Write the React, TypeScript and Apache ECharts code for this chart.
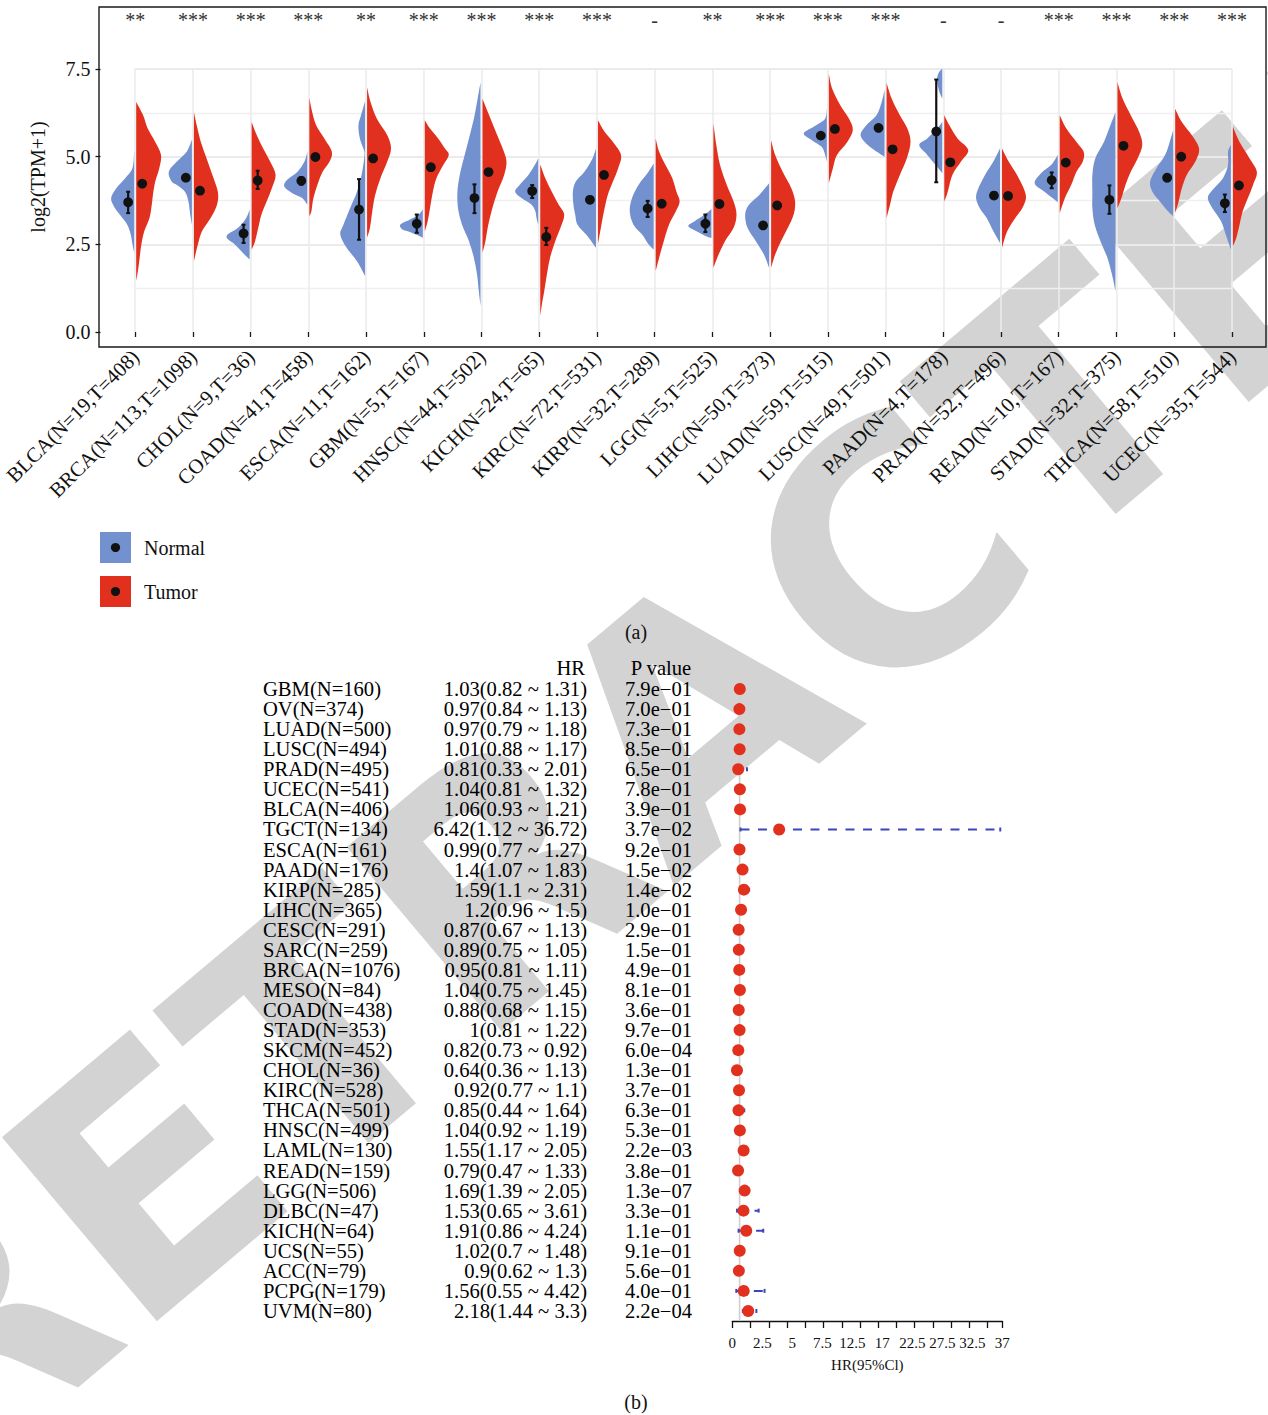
import React, { useEffect, useRef } from 'react';
import * as echarts from 'echarts';

// ---------------- Panel (a) data ----------------
const categories = ['BLCA(N=19,T=408)', 'BRCA(N=113,T=1098)', 'CHOL(N=9,T=36)', 'COAD(N=41,T=458)', 'ESCA(N=11,T=162)', 'GBM(N=5,T=167)', 'HNSC(N=44,T=502)', 'KICH(N=24,T=65)', 'KIRC(N=72,T=531)', 'KIRP(N=32,T=289)', 'LGG(N=5,T=525)', 'LIHC(N=50,T=373)', 'LUAD(N=59,T=515)', 'LUSC(N=49,T=501)', 'PAAD(N=4,T=178)', 'PRAD(N=52,T=496)', 'READ(N=10,T=167)', 'STAD(N=32,T=375)', 'THCA(N=58,T=510)', 'UCEC(N=35,T=544)'];
const significance = ['**', '***', '***', '***', '**', '***', '***', '***', '***', '-', '**', '***', '***', '***', '-', '-', '***', '***', '***', '***'];
const yTicks = [0, 2.5, 5, 7.5];

const normalMean = [3.70, 4.40, 2.81, 4.31, 3.49, 3.09, 3.82, 4.02, 3.77, 3.52, 3.09, 3.04, 5.60, 5.82, 5.72, 3.89, 4.33, 3.77, 4.40, 3.67];
const normalLow = [3.39, 4.33, 2.54, 4.20, 2.63, 2.83, 3.39, 3.82, 3.68, 3.28, 2.85, 2.95, 5.55, 5.75, 4.27, 3.80, 4.10, 3.37, 4.30, 3.42];
const normalHigh = [4.00, 4.47, 3.06, 4.42, 4.36, 3.35, 4.21, 4.19, 3.86, 3.74, 3.35, 3.13, 5.65, 5.88, 7.20, 3.98, 4.55, 4.18, 4.50, 3.92];
const tumorMean = [4.23, 4.03, 4.32, 4.99, 4.95, 4.70, 4.56, 2.71, 4.48, 3.66, 3.65, 3.61, 5.79, 5.21, 4.84, 3.88, 4.83, 5.31, 5.00, 4.18];
const tumorLow = [4.18, 3.98, 4.08, 4.94, 4.85, 4.65, 4.51, 2.48, 4.43, 3.61, 3.60, 3.56, 5.74, 5.16, 4.79, 3.83, 4.78, 5.26, 4.95, 4.13];
const tumorHigh = [4.28, 4.08, 4.60, 5.04, 5.05, 4.75, 4.61, 2.97, 4.53, 3.71, 3.70, 3.66, 5.84, 5.26, 4.89, 3.93, 4.88, 5.36, 5.05, 4.23];

// density profiles: [log2(TPM+1), half width as a fraction of the category step]
const normalShapes: number[][][] = [
  [[5.16, 0], [4.67, 0.03], [4.38, 0.16], [4.10, 0.31], [3.82, 0.40], [3.58, 0.35], [3.35, 0.25], [3.06, 0.12], [2.78, 0.06], [2.50, 0.03], [2.26, 0]],
  [[5.49, 0], [5.14, 0.09], [4.86, 0.26], [4.57, 0.40], [4.29, 0.35], [4.19, 0.26], [4.00, 0.12], [3.72, 0.06], [3.35, 0.03], [3.06, 0]],
  [[3.49, 0], [3.25, 0.06], [2.97, 0.20], [2.73, 0.40], [2.50, 0.26], [2.21, 0.09], [2.07, 0]],
  [[5.14, 0], [4.86, 0.05], [4.57, 0.17], [4.34, 0.35], [4.15, 0.40], [3.96, 0.26], [3.82, 0.09], [3.63, 0]],
  [[6.57, 0], [6.18, 0.07], [5.89, 0.115], [5.52, 0.09], [5.23, 0.03], [5.05, 0.01], [4.48, 0.06], [4.00, 0.14], [3.53, 0.26], [3.06, 0.375], [2.78, 0.43], [2.40, 0.32], [2.02, 0.14], [1.60, 0]],
  [[3.49, 0], [3.35, 0.07], [3.20, 0.23], [3.06, 0.39], [2.92, 0.35], [2.87, 0.26], [2.73, 0.05], [2.68, 0]],
  [[7.12, 0], [6.65, 0.05], [6.08, 0.115], [5.52, 0.20], [4.95, 0.29], [4.48, 0.36], [4.00, 0.40], [3.53, 0.39], [3.06, 0.32], [2.59, 0.20], [2.12, 0.115], [1.64, 0.06], [1.17, 0.03], [0.75, 0]],
  [[4.95, 0], [4.76, 0.06], [4.48, 0.17], [4.20, 0.32], [4.00, 0.40], [3.82, 0.29], [3.63, 0.115], [3.44, 0.05], [3.25, 0.03], [3.06, 0]],
  [[5.23, 0], [4.95, 0.06], [4.57, 0.20], [4.29, 0.35], [4.00, 0.40], [3.63, 0.39], [3.35, 0.36], [3.06, 0.32], [2.78, 0.17], [2.54, 0.06], [2.40, 0]],
  [[4.81, 0], [4.57, 0.09], [4.20, 0.26], [3.82, 0.375], [3.44, 0.415], [3.06, 0.35], [2.78, 0.20], [2.50, 0.09], [2.35, 0]],
  [[3.51, 0], [3.35, 0.115], [3.16, 0.29], [3.02, 0.40], [2.87, 0.26], [2.73, 0.09], [2.68, 0]],
  [[4.24, 0], [3.91, 0.17], [3.63, 0.35], [3.35, 0.415], [2.97, 0.375], [2.59, 0.23], [2.21, 0.09], [1.83, 0]],
  [[6.39, 0], [6.08, 0.03], [5.85, 0.23], [5.66, 0.40], [5.47, 0.26], [5.28, 0.09], [5.05, 0.03], [4.86, 0]],
  [[6.91, 0], [6.56, 0.05], [6.18, 0.14], [5.89, 0.32], [5.61, 0.415], [5.33, 0.29], [5.09, 0.09], [5.00, 0]],
  [[7.51, 0], [7.40, 0.06], [7.20, 0.09], [6.90, 0.06], [6.65, 0], [5.99, 0], [5.80, 0.09], [5.52, 0.26], [5.33, 0.40], [5.05, 0.26], [4.76, 0.115], [4.53, 0]],
  [[5.23, 0], [4.86, 0.115], [4.48, 0.26], [4.10, 0.375], [3.82, 0.415], [3.53, 0.35], [3.25, 0.23], [2.87, 0.115], [2.54, 0]],
  [[5.05, 0], [4.76, 0.115], [4.53, 0.29], [4.24, 0.40], [4.00, 0.23], [3.82, 0.09], [3.70, 0]],
  [[6.27, 0], [5.89, 0.09], [5.42, 0.20], [4.95, 0.35], [4.48, 0.40], [4.00, 0.40], [3.53, 0.40], [3.06, 0.36], [2.59, 0.26], [2.12, 0.14], [1.64, 0.06], [1.17, 0]],
  [[5.75, 0], [5.42, 0.06], [5.05, 0.14], [4.67, 0.29], [4.29, 0.40], [4.00, 0.36], [3.72, 0.23], [3.44, 0.09], [3.30, 0]],
  [[5.33, 0], [5.14, 0.05], [4.76, 0.05], [4.38, 0.14], [4.05, 0.32], [3.82, 0.40], [3.53, 0.32], [3.16, 0.17], [2.78, 0.09], [2.35, 0]],
];
const tumorShapes: number[][][] = [
  [[6.56, 0], [6.18, 0.12], [5.80, 0.20], [5.42, 0.33], [5.05, 0.43], [4.67, 0.40], [4.29, 0.33], [3.91, 0.29], [3.63, 0.27], [3.25, 0.23], [2.87, 0.14], [2.50, 0.09], [2.12, 0.06], [1.74, 0.03], [1.46, 0]],
  [[6.27, 0], [5.89, 0.05], [5.42, 0.12], [4.95, 0.22], [4.48, 0.32], [4.00, 0.415], [3.63, 0.40], [3.25, 0.29], [2.87, 0.14], [2.50, 0.07], [2.02, 0]],
  [[5.99, 0], [5.61, 0.09], [5.23, 0.20], [4.86, 0.32], [4.48, 0.415], [4.10, 0.35], [3.72, 0.26], [3.35, 0.17], [2.97, 0.115], [2.59, 0.06], [2.35, 0]],
  [[6.67, 0], [6.27, 0.05], [5.89, 0.12], [5.52, 0.26], [5.14, 0.39], [4.86, 0.35], [4.57, 0.23], [4.20, 0.14], [3.82, 0.07], [3.44, 0.035], [3.30, 0]],
  [[6.98, 0], [6.56, 0.06], [6.08, 0.17], [5.61, 0.35], [5.23, 0.415], [4.86, 0.35], [4.38, 0.23], [3.91, 0.14], [3.44, 0.09], [2.97, 0.05], [2.69, 0]],
  [[6.04, 0], [5.80, 0.09], [5.52, 0.23], [5.23, 0.35], [5.05, 0.415], [4.76, 0.32], [4.38, 0.20], [4.00, 0.14], [3.53, 0.09], [3.16, 0.05], [2.87, 0]],
  [[6.65, 0], [6.18, 0.115], [5.71, 0.23], [5.23, 0.35], [4.86, 0.415], [4.48, 0.375], [4.00, 0.26], [3.53, 0.17], [3.06, 0.10], [2.59, 0.05], [2.26, 0]],
  [[4.78, 0], [4.38, 0.09], [4.00, 0.20], [3.63, 0.32], [3.35, 0.415], [2.97, 0.35], [2.59, 0.26], [2.12, 0.17], [1.64, 0.115], [1.17, 0.07], [0.80, 0.03], [0.45, 0]],
  [[6.04, 0], [5.71, 0.115], [5.42, 0.26], [5.05, 0.40], [4.67, 0.35], [4.29, 0.26], [3.91, 0.17], [3.53, 0.115], [3.06, 0.06], [2.50, 0]],
  [[5.52, 0], [5.14, 0.06], [4.76, 0.17], [4.38, 0.29], [4.00, 0.36], [3.72, 0.415], [3.44, 0.35], [3.06, 0.23], [2.59, 0.14], [2.12, 0.06], [1.74, 0]],
  [[5.95, 0], [5.33, 0.05], [4.76, 0.115], [4.20, 0.23], [3.72, 0.35], [3.35, 0.40], [2.97, 0.35], [2.59, 0.20], [2.21, 0.09], [1.83, 0]],
  [[5.47, 0], [5.05, 0.07], [4.57, 0.20], [4.10, 0.35], [3.72, 0.415], [3.35, 0.39], [2.97, 0.29], [2.59, 0.17], [2.21, 0.07], [1.83, 0]],
  [[7.36, 0], [6.93, 0.06], [6.46, 0.20], [6.08, 0.35], [5.76, 0.415], [5.42, 0.32], [5.05, 0.14], [4.67, 0.07], [4.24, 0]],
  [[7.10, 0], [6.65, 0.09], [6.18, 0.23], [5.80, 0.36], [5.42, 0.415], [4.95, 0.35], [4.48, 0.23], [4.00, 0.115], [3.63, 0.06], [3.25, 0]],
  [[6.18, 0], [5.89, 0.09], [5.52, 0.23], [5.19, 0.415], [4.86, 0.29], [4.48, 0.14], [4.00, 0.06], [3.72, 0]],
  [[5.23, 0], [4.86, 0.115], [4.48, 0.26], [4.10, 0.375], [3.82, 0.415], [3.53, 0.35], [3.25, 0.23], [2.87, 0.09], [2.40, 0]],
  [[6.18, 0], [5.80, 0.115], [5.42, 0.29], [5.14, 0.415], [4.86, 0.40], [4.57, 0.29], [4.20, 0.20], [3.82, 0.09], [3.39, 0]],
  [[7.12, 0], [6.65, 0.09], [6.18, 0.23], [5.71, 0.375], [5.33, 0.43], [4.95, 0.35], [4.57, 0.23], [4.20, 0.14], [3.82, 0.07], [3.53, 0]],
  [[6.37, 0], [5.99, 0.115], [5.61, 0.29], [5.23, 0.415], [4.86, 0.35], [4.48, 0.20], [4.10, 0.115], [3.72, 0.06], [3.39, 0]],
  [[5.85, 0], [5.42, 0.115], [4.95, 0.29], [4.57, 0.415], [4.20, 0.35], [3.82, 0.26], [3.44, 0.17], [3.06, 0.115], [2.69, 0.06], [2.45, 0]],
];

// ---------------- Panel (b) data ----------------
const forestNames = ['GBM(N=160)', 'OV(N=374)', 'LUAD(N=500)', 'LUSC(N=494)', 'PRAD(N=495)', 'UCEC(N=541)', 'BLCA(N=406)', 'TGCT(N=134)', 'ESCA(N=161)', 'PAAD(N=176)', 'KIRP(N=285)', 'LIHC(N=365)', 'CESC(N=291)', 'SARC(N=259)', 'BRCA(N=1076)', 'MESO(N=84)', 'COAD(N=438)', 'STAD(N=353)', 'SKCM(N=452)', 'CHOL(N=36)', 'KIRC(N=528)', 'THCA(N=501)', 'HNSC(N=499)', 'LAML(N=130)', 'READ(N=159)', 'LGG(N=506)', 'DLBC(N=47)', 'KICH(N=64)', 'UCS(N=55)', 'ACC(N=79)', 'PCPG(N=179)', 'UVM(N=80)'];
const hr = [1.03, 0.97, 0.97, 1.01, 0.81, 1.04, 1.06, 6.42, 0.99, 1.4, 1.59, 1.2, 0.87, 0.89, 0.95, 1.04, 0.88, 1, 0.82, 0.64, 0.92, 0.85, 1.04, 1.55, 0.79, 1.69, 1.53, 1.91, 1.02, 0.9, 1.56, 2.18];
const hrLower = [0.82, 0.84, 0.79, 0.88, 0.33, 0.81, 0.93, 1.12, 0.77, 1.07, 1.1, 0.96, 0.67, 0.75, 0.81, 0.75, 0.68, 0.81, 0.73, 0.36, 0.77, 0.44, 0.92, 1.17, 0.47, 1.39, 0.65, 0.86, 0.7, 0.62, 0.55, 1.44];
const hrUpper = [1.31, 1.13, 1.18, 1.17, 2.01, 1.32, 1.21, 36.72, 1.27, 1.83, 2.31, 1.5, 1.13, 1.05, 1.11, 1.45, 1.15, 1.22, 0.92, 1.13, 1.1, 1.64, 1.19, 2.05, 1.33, 2.05, 3.61, 4.24, 1.48, 1.3, 4.42, 3.3];
const pValues = ['7.9e−01', '7.0e−01', '7.3e−01', '8.5e−01', '6.5e−01', '7.8e−01', '3.9e−01', '3.7e−02', '9.2e−01', '1.5e−02', '1.4e−02', '1.0e−01', '2.9e−01', '1.5e−01', '4.9e−01', '8.1e−01', '3.6e−01', '9.7e−01', '6.0e−04', '1.3e−01', '3.7e−01', '6.3e−01', '5.3e−01', '2.2e−03', '3.8e−01', '1.3e−07', '3.3e−01', '1.1e−01', '9.1e−01', '5.6e−01', '4.0e−01', '2.2e−04'];
const forestTickLabels = ['0', '2.5', '5', '7.5', '12.5', '17', '22.5', '27.5', '32.5', '37'];
const forestMax = 37;
const referenceHR = [1];

const hrText = hr.map((v, i) => `${v}(${hrLower[i]} ~ ${hrUpper[i]})`);

// ---------------- styles ----------------
const FONT = 'Liberation Serif';
const BLUE = '#7391cf';
const RED = '#e1311e';
const CI_BLUE = '#3c46bc';
const HALF_GAP = 1;
const DOT_OFFSET = 0.122;
const SIG_Y = 8.9;

function lobes(profile: number[][]) {
  const zeros: number[] = [];
  profile.forEach((p, i) => { if (p[1] === 0) zeros.push(i); });
  const res: number[][][] = [];
  for (let k = 0; k < zeros.length - 1; k++) {
    if (zeros[k + 1] - zeros[k] > 1) res.push(profile.slice(zeros[k], zeros[k + 1] + 1));
  }
  return res;
}

function smoothHalf(pts: number[][], cx: number, side: number) {
  const clampX = (x: number) => (side < 0 ? Math.min(x, cx) : Math.max(x, cx));
  let d = `M${pts[0][0]} ${pts[0][1]}`;
  for (let i = 0; i < pts.length - 1; i++) {
    const p0 = pts[Math.max(i - 1, 0)];
    const p1 = pts[i];
    const p2 = pts[i + 1];
    const p3 = pts[Math.min(i + 2, pts.length - 1)];
    const c1x = clampX(p1[0] + (p2[0] - p0[0]) / 6);
    const c1y = p1[1] + (p2[1] - p0[1]) / 6;
    const c2x = clampX(p2[0] - (p3[0] - p1[0]) / 6);
    const c2y = p2[1] - (p3[1] - p1[1]) / 6;
    d += ` C${c1x} ${c1y} ${c2x} ${c2y} ${p2[0]} ${p2[1]}`;
  }
  return d + ' Z';
}

function violinRenderer(shapes: number[][][], color: string, side: number) {
  return (params: any, api: any) => {
    const idx = api.value(0);
    const unit = api.coord([1, 0])[0] - api.coord([0, 0])[0];
    const cx = api.coord([idx, 0])[0] + side * HALF_GAP;
    const children = lobes(shapes[idx]).map((lobe) => {
      const pts = lobe.map(([v, w]) => [cx + side * w * unit, api.coord([idx, v])[1]]);
      return { type: 'path', shape: { pathData: smoothHalf(pts, cx, side) }, style: { fill: color } };
    });
    return { type: 'group', children };
  };
}

function pointRenderer(params: any, api: any) {
  const idx = api.value(0);
  const unit = api.coord([1, 0])[0] - api.coord([0, 0])[0];
  const cx = api.coord([idx, 0])[0];
  const children: any[] = [];
  const add = (dx: number, mean: number, lo: number, hi: number) => {
    const x = cx + dx * unit;
    const yM = api.coord([idx, mean])[1];
    const yL = api.coord([idx, lo])[1];
    const yH = api.coord([idx, hi])[1];
    children.push({ type: 'line', shape: { x1: x, y1: yL, x2: x, y2: yH }, style: { stroke: '#111', lineWidth: 2.2 } });
    children.push({ type: 'line', shape: { x1: x - 2, y1: yL, x2: x + 2, y2: yL }, style: { stroke: '#111', lineWidth: 2 } });
    children.push({ type: 'line', shape: { x1: x - 2, y1: yH, x2: x + 2, y2: yH }, style: { stroke: '#111', lineWidth: 2 } });
    children.push({ type: 'circle', shape: { cx: x, cy: yM, r: 4.9 }, style: { fill: '#111' } });
  };
  add(-DOT_OFFSET, normalMean[idx], normalLow[idx], normalHigh[idx]);
  add(DOT_OFFSET, tumorMean[idx], tumorLow[idx], tumorHigh[idx]);
  children.push({
    type: 'text', x: cx, y: api.coord([idx, SIG_Y])[1],
    style: { text: significance[idx], fontSize: 20, fontFamily: FONT, fill: '#333', align: 'center', verticalAlign: 'middle' },
  });
  return { type: 'group', children };
}

function ciRenderer(params: any, api: any) {
  const lo = api.coord([api.value(0), api.value(2)]);
  const hi = api.coord([api.value(1), api.value(2)]);
  const y = lo[1];
  return {
    type: 'group',
    children: [
      { type: 'line', shape: { x1: lo[0], y1: y, x2: hi[0], y2: y }, style: { stroke: CI_BLUE, lineWidth: 2, lineDash: [9, 8.5] } },
      { type: 'line', shape: { x1: lo[0], y1: y - 2, x2: lo[0], y2: y + 2 }, style: { stroke: CI_BLUE, lineWidth: 2 } },
      { type: 'line', shape: { x1: hi[0], y1: y - 2, x2: hi[0], y2: y + 2 }, style: { stroke: CI_BLUE, lineWidth: 2 } },
    ],
  };
}

function refLineRenderer(params: any, api: any) {
  const x = api.coord([api.value(0), 0])[0];
  const cs = params.coordSys;
  return { type: 'line', shape: { x1: x, y1: cs.y, x2: x, y2: cs.y + cs.height }, style: { stroke: '#cfcfcf', lineWidth: 1.6 } };
}

const labelText = { fontFamily: FONT, color: '#111' };

function buildOption() {
  const catIdx = categories.map((_, i) => [i]);
  const forestLabelPositions = forestTickLabels.map((_, i) => (i * forestMax) / (forestTickLabels.length - 1));
  const hiddenAxis = { show: false };
  const forestCatAxis = (data: string[], align: string, margin: number) => ({
    type: 'category', gridIndex: 2, data, inverse: true, position: 'left',
    axisLine: { show: false }, axisTick: { show: false }, splitLine: { show: false },
    axisLabel: { align, margin, fontSize: 20.6, ...labelText, color: '#000', interval: 0 },
  });
  return {
    animation: false,
    textStyle: { fontFamily: FONT },
    grid: [
      { left: 99, top: 7, width: 1167, height: 340, show: true, borderColor: '#1a1a1a', borderWidth: 1.4, backgroundColor: 'transparent' },
      { left: 133.7, top: 69, width: 1098.2, height: 263 },
      { left: 732.3, top: 679, width: 270, height: 642 },
    ],
    xAxis: [
      { type: 'value', gridIndex: 0, min: 0, max: 1, ...hiddenAxis },
      {
        type: 'category', gridIndex: 1, data: categories, boundaryGap: false, offset: 15,
        axisLine: { show: false },
        axisTick: { show: true, length: 5, lineStyle: { color: '#1a1a1a', width: 1.3 } },
        axisLabel: { rotate: 45, interval: 0, margin: 6, fontSize: 20.8, ...labelText },
        splitLine: { show: true, lineStyle: { color: '#ececec', width: 1.6 } },
      },
      {
        type: 'value', gridIndex: 2, min: 0, max: forestMax, interval: 2.5,
        axisLine: { show: true, lineStyle: { color: '#111', width: 1.3 } },
        axisTick: { show: true, length: 7, lineStyle: { color: '#111', width: 1.3 } },
        axisLabel: {
          customValues: forestLabelPositions, margin: 14, fontSize: 15, ...labelText,
          formatter: (v: number) => forestTickLabels[Math.round((v * (forestTickLabels.length - 1)) / forestMax)],
        },
        splitLine: { show: false },
        name: 'HR(95%Cl)', nameLocation: 'middle', nameGap: 36, nameTextStyle: { fontSize: 15, ...labelText },
      },
    ],
    yAxis: [
      {
        type: 'value', gridIndex: 0, min: 0, max: 1,
        axisLine: { show: false }, axisTick: { show: false }, axisLabel: { show: false }, splitLine: { show: false },
        name: 'log2(TPM+1)', nameLocation: 'middle', nameGap: 51, nameTextStyle: { fontSize: 20, ...labelText },
      },
      {
        type: 'value', gridIndex: 1, min: yTicks[0], max: yTicks[yTicks.length - 1], interval: 2.5, offset: 34.7,
        axisLine: { show: false },
        axisTick: { show: true, length: 5, lineStyle: { color: '#1a1a1a', width: 1.3 } },
        axisLabel: { margin: 10, fontSize: 20, ...labelText, formatter: (v: number) => v.toFixed(1) },
        splitLine: { show: true, lineStyle: { color: ['rgba(0,0,0,0)', '#ebebeb', '#ebebeb', '#ebebeb'], width: 1.8 } },
        minorTick: { show: false, splitNumber: 2 },
        minorSplitLine: { show: true, lineStyle: { color: '#f0f0f0', width: 1.3 } },
      },
      forestCatAxis(forestNames, 'left', 469.3),
      forestCatAxis(hrText, 'right', 145.3),
      forestCatAxis(pValues, 'right', 40.3),
    ],
    legend: {
      data: ['Normal', 'Tumor'], orient: 'vertical', left: 95, top: 527, itemWidth: 31, itemHeight: 31, itemGap: 13,
      icon: 'rect', textStyle: { fontSize: 20, fontFamily: FONT, color: '#111', padding: [0, 0, 0, 8] },
    },
    series: [
      { type: 'custom', name: 'Normal', xAxisIndex: 1, yAxisIndex: 1, data: catIdx, renderItem: violinRenderer(normalShapes, BLUE, -1), itemStyle: { color: BLUE }, z: 2 },
      { type: 'custom', name: 'Tumor', xAxisIndex: 1, yAxisIndex: 1, data: catIdx, renderItem: violinRenderer(tumorShapes, RED, 1), itemStyle: { color: RED }, z: 2 },
      { type: 'custom', name: 'points', xAxisIndex: 1, yAxisIndex: 1, data: catIdx, renderItem: pointRenderer, z: 4 },
      { type: 'custom', name: 'ref', xAxisIndex: 2, yAxisIndex: 2, data: referenceHR.map((v) => [v, 0]), renderItem: refLineRenderer, z: 1 },
      {
        type: 'custom', name: 'CI', xAxisIndex: 2, yAxisIndex: 2, encode: { x: [0, 1], y: 2 },
        data: hr.map((_, i) => [hrLower[i], hrUpper[i], i]), renderItem: ciRenderer, z: 2,
      },
      {
        type: 'scatter', name: 'HR', xAxisIndex: 2, yAxisIndex: 2, data: hr.map((v, i) => [v, i]),
        symbolSize: 12, itemStyle: { color: RED, opacity: 1 }, z: 3,
      },
    ],
    graphic: [
      {
        type: 'text', x: 700, y: 715, rotation: 0.70, z: -10, silent: true,
        style: { text: 'RETRACTED', fontSize: 330, fontWeight: 'bold', fontFamily: 'DejaVu Sans', fill: '#d3d3d3', align: 'center', verticalAlign: 'middle' },
      },
      { type: 'circle', shape: { cx: 115.5, cy: 547.5, r: 4.6 }, style: { fill: '#111' }, z: 10 },
      { type: 'circle', shape: { cx: 115.5, cy: 591.5, r: 4.6 }, style: { fill: '#111' }, z: 10 },
      { type: 'text', x: 636, y: 632, style: { text: '(a)', fontSize: 20, fontFamily: FONT, fill: '#111', align: 'center', verticalAlign: 'middle' } },
      { type: 'text', x: 636, y: 1402, style: { text: '(b)', fontSize: 20, fontFamily: FONT, fill: '#111', align: 'center', verticalAlign: 'middle' } },
      { type: 'text', x: 585, y: 668, style: { text: 'HR', fontSize: 20.6, fontFamily: FONT, fill: '#000', align: 'right', verticalAlign: 'middle' } },
      { type: 'text', x: 661, y: 668, style: { text: 'P value', fontSize: 20.6, fontFamily: FONT, fill: '#000', align: 'center', verticalAlign: 'middle' } },
    ],
  };
}

export default function App() {
  const ref = useRef<HTMLDivElement>(null);
  useEffect(() => {
    if (!ref.current) return;
    const chart = echarts.init(ref.current, null, { renderer: 'svg' });
    chart.setOption(buildOption() as any);
    return () => chart.dispose();
  }, []);
  return <div ref={ref} style={{ position: 'absolute', left: 0, top: 0, width: 1268, height: 1415, background: '#fff' }} />;
}
